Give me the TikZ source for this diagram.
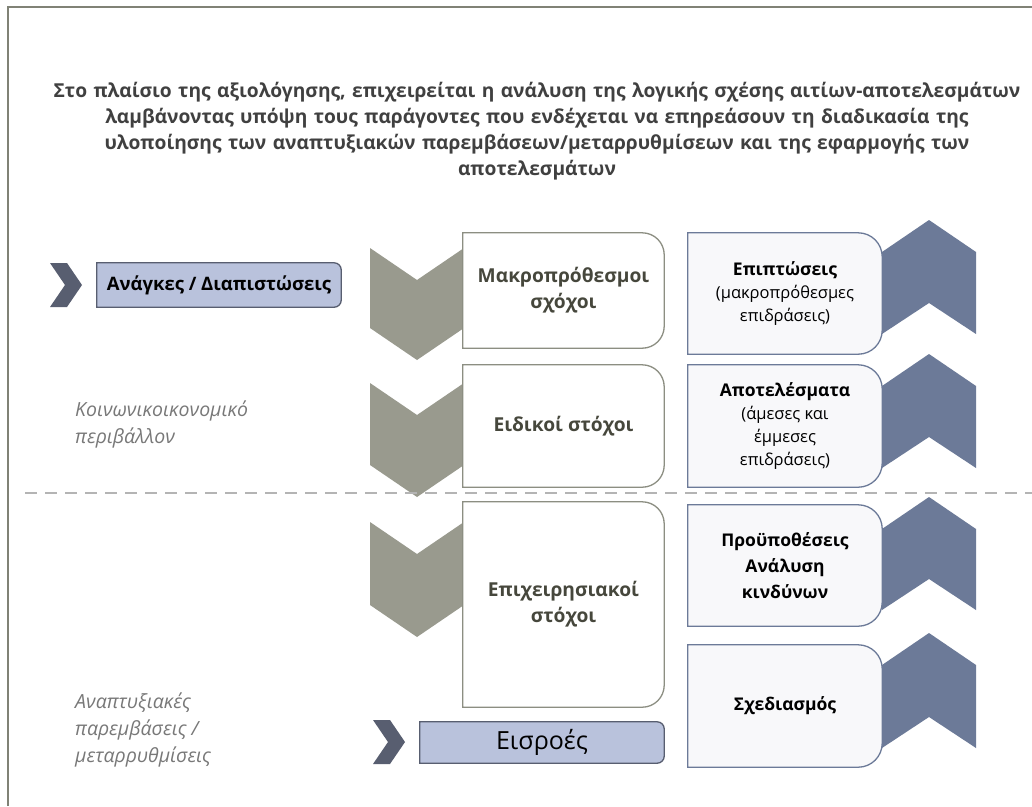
\documentclass[tikz,border=0pt]{standalone}
\usepackage{fontspec}
\setmainfont{Open Sans}
\usetikzlibrary{positioning,backgrounds}
\definecolor{framegray}{RGB}{128,130,118}
\definecolor{olivegray}{RGB}{153,154,142}
\definecolor{olivedark}{RGB}{70,71,60}
\definecolor{oliveline}{RGB}{140,142,130}
\definecolor{slateblue}{RGB}{108,122,152}
\definecolor{slatedark}{RGB}{88,94,112}
\definecolor{lavender}{RGB}{185,194,220}
\definecolor{titlegray}{RGB}{64,64,64}
\definecolor{labelgray}{RGB}{120,120,120}
\definecolor{dashgray}{RGB}{180,180,180}

% chevrons
\newcommand\downchev[3]{%
  \fill[olivegray] (#1-47,#2) -- (#1,#2+32) -- (#1+47,#2) -- (#1+47,#3-32) -- (#1,#3) -- (#1-47,#3-32) -- cycle;}
\newcommand\upchev[3]{%
  \fill[slateblue] (#1,#2) -- (#1+47,#2+32) -- (#1+47,#3) -- (#1,#3-31) -- (#1-47,#3) -- (#1-47,#2+32) -- cycle;}
\newcommand\smallchev[2]{%
  \fill[slatedark] (#1,#2-22) -- (#1+17,#2-22) -- (#1+32,#2) -- (#1+17,#2+22) -- (#1,#2+22) -- (#1+15,#2) -- cycle;}
% box with rounded right side
\newcommand\rightround[4]{%
  \filldraw[fill=#3, draw=#4, line width=1.3pt]
    (#1.north west) [rounded corners=#2] -- (#1.north east) -- (#1.south east) [sharp corners] -- (#1.south west) -- cycle;}

\begin{document}
\begin{tikzpicture}[x=1pt,y=-1pt,
  goalbox/.style={minimum width=201pt, inner sep=0pt, align=center, text=olivedark,
    font=\fontsize{19.2}{26}\selectfont\bfseries},
  effectbox/.style={minimum width=194pt, inner sep=0pt, align=center,
    font=\fontsize{16.5}{23}\selectfont},
  inputbox/.style={minimum width=244pt, inner sep=0pt, align=center},
  sidelabel/.style={anchor=north west, align=left, text=labelgray, inner sep=0pt,
    font=\fontsize{19.5}{27}\selectfont\itshape}]
\useasboundingbox (0,0) rectangle (1032,806);
\draw[framegray, line width=1.5pt] (8,806) -- (8,7) -- (1032,7);

% Title
\node[text width=1020pt, align=center, text=titlegray, font=\fontsize{19.2}{26}\selectfont\bfseries] (title) at (537,131)
  {Στο πλαίσιο της αξιολόγησης, επιχειρείται η ανάλυση της λογικής σχέσης αιτίων-αποτελεσμάτων\\
   λαμβάνοντας υπόψη τους παράγοντες που ενδέχεται να επηρεάσουν τη διαδικασία της\\
   υλοποίησης των αναπτυξιακών παρεμβάσεων/μεταρρυθμίσεων και της εφαρμογής των\\
   αποτελεσμάτων};

% Divider
\draw[dashgray, line width=1.5pt, dash pattern=on 12pt off 8pt] (25,493) -- (1032,493);

% Needs and inputs
\node[inputbox, minimum height=44pt, font=\fontsize{18.5}{20}\selectfont\bfseries] (needs) at (219,285) {Ανάγκες / Διαπιστώσεις};
\node[inputbox, minimum height=41pt, font=\fontsize{25}{28}\selectfont] (inputs) at (542,742.5) {Εισροές};

% Objectives
\node[goalbox, minimum height=115pt] (longterm) at (563.5,290.5) {Μακροπρόθεσμοι\\σχόχοι};
\node[goalbox, minimum height=122pt] (specific) at (563.5,426) {Ειδικοί στόχοι};
\node[goalbox, minimum height=205pt] (operational) at (563.5,604.5) {Επιχειρησιακοί\\στόχοι};

% Effects
\node[effectbox, minimum height=121pt] (impacts) at (785,293.5) {\textbf{\fontsize{17.5}{23}\selectfont Επιπτώσεις}\\(μακροπρόθεσμες\\επιδράσεις)};
\node[effectbox, minimum height=122pt] (results) at (785,426) {\textbf{\fontsize{17.5}{23}\selectfont Αποτελέσματα}\\(άμεσες και\\έμμεσες\\επιδράσεις)};
\node[effectbox, minimum height=121pt, font=\fontsize{17.5}{26}\selectfont\bfseries] (conditions) at (785,565.5) {Προϋποθέσεις\\Ανάλυση\\κινδύνων};
\node[effectbox, minimum height=122pt, font=\fontsize{17.5}{23}\selectfont\bfseries] (design) at (785,706) {Σχεδιασμός};

% Side labels
\node[sidelabel] (environment) at (75,401) {Κοινωνικοικονομικό\\περιβάλλον};
\node[sidelabel] (interventions) at (75,693) {Αναπτυξιακές\\παρεμβάσεις /\\μεταρρυθμίσεις};

\begin{scope}[on background layer]
\fill[white] (0,0) rectangle (1032,806);
\downchev{417}{248}{360}
\downchev{417}{383}{497}
\downchev{417}{522}{637}
\upchev{929}{220}{334}
\upchev{929}{354}{468}
\upchev{929}{497}{610}
\upchev{929}{633}{748}
\smallchev{50}{285}
\smallchev{373}{742}
\rightround{needs}{7pt}{lavender}{slatedark}
\rightround{inputs}{7pt}{lavender}{slatedark}
\rightround{longterm}{22pt}{white}{oliveline}
\rightround{specific}{22pt}{white}{oliveline}
\rightround{operational}{22pt}{white}{oliveline}
\rightround{impacts}{24pt}{slateblue!5}{slateblue}
\rightround{results}{24pt}{slateblue!5}{slateblue}
\rightround{conditions}{24pt}{slateblue!5}{slateblue}
\rightround{design}{24pt}{slateblue!5}{slateblue}
\end{scope}
\end{tikzpicture}
\end{document}
